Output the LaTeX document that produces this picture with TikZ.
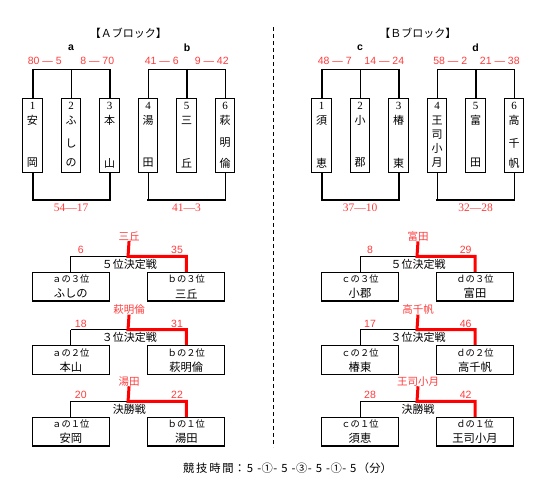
\documentclass[tikz,border=0pt]{standalone}
\usepackage{fontspec}
\setmainfont{Liberation Serif}
\setsansfont{Liberation Sans}
\newfontfamily\jp{Noto Sans CJK JP}
\definecolor{rtext}{RGB}{255,60,60}
\definecolor{rline}{RGB}{255,0,0}
\tikzset{
  tbox/.style={draw, line width=0.9pt, minimum width=19.5pt, minimum height=74pt, inner sep=0pt},
  gbox/.style={draw, line width=1.1pt, minimum width=77pt, minimum height=28.7pt, inner sep=0pt},
  jtxt/.style={font=\jp\fontsize{11}{11}\selectfont, inner sep=0pt},
  ntxt/.style={font=\rmfamily\fontsize{11}{11}\selectfont, inner sep=0pt},
  ptxt/.style={font=\jp\fontsize{9.3}{9.3}\selectfont, inner sep=0pt},
  gname/.style={font=\jp\fontsize{11.3}{11.3}\selectfont, inner sep=0pt},
  rnum/.style={font=\sffamily\fontsize{10.5}{10.5}\selectfont, text=rtext, inner sep=0pt},
  rjp/.style={font=\jp\fontsize{10.5}{10.5}\selectfont, text=rtext, inner sep=0pt},
  rser/.style={font=\rmfamily\fontsize{11.5}{11.5}\selectfont, text=rtext, inner sep=0pt},
  lab/.style={font=\sffamily\bfseries\fontsize{10.5}{10.5}\selectfont, inner sep=0pt},
  thinl/.style={line width=0.9pt},
  thickl/.style={line width=2pt},
  blkh/.style={line width=1.3pt},
  redl/.style={draw=rline, line width=3pt},
}
% lower game lines: prefix, xL, xR, Y0, winner, scoreL, scoreR, title
\newcommand\game[8]{%
  \coordinate (#1m) at ({(#2+#3)/2-0.5},{#4-16});
  \node[rjp] (#1w) at ({(#2+#3)/2+0.5},{#4-36}) {#5};
  \node[rnum] (#1sl) at ({#2+10},{#4-22}) {#6};
  \node[rnum] (#1sr) at ({#3-9.3},{#4-22}) {#7};
  \node[jtxt] (#1t) at ({(#2+#3)/2+0.7},{#4-7.7}) {#8};
  \draw[blkh] (#1m) -- (#1m -| #1L.north);
  \draw[thinl] (#1m -| #1L.north) -- (#1L.north);
  \draw[redl] (#1w.south) -- (#1m) -| (#1R.north);
}
% lower game box: name, x, Y0, position text, team
\newcommand\gbx[5]{%
  \node[gbox] (#1) at (#2,{#3+14.35}) {};
  \node[ptxt] (#1p) at (#2,{#3+7}) {#4};
  \node[gname] (#1q) at (#2,{#3+21.3}) {#5};
}
\begin{document}
\begin{tikzpicture}[x=1pt,y=-1pt]
\useasboundingbox (0,0) rectangle (549,488);

% titles
\node[jtxt] (tA) at (128.3,33) {【Ａブロック】};
\node[jtxt] (tB) at (417.8,33) {【Ｂブロック】};
\node[lab] (la) at (71,48) {a};
\node[lab] (lb) at (187,48) {b};
\node[lab] (lc) at (360,48) {c};
\node[lab] (ld) at (475.5,48) {d};

% top scores
\node[rnum] (sa1) at (44.8,61) {80 — 5};
\node[rnum] (sa2) at (97.2,61) {8 — 70};
\node[rnum] (sb1) at (161.8,61) {41 — 6};
\node[rnum] (sb2) at (211.7,61) {9 — 42};
\node[rnum] (sc1) at (334.7,61) {48 — 7};
\node[rnum] (sc2) at (384.3,61) {14 — 24};
\node[rnum] (sd1) at (450.3,61) {58 — 2};
\node[rnum] (sd2) at (499.8,61) {21 — 38};

% A block boxes
\node[tbox] (A1) at (32.5,135) {};
\node[tbox] (A2) at (71,135) {};
\node[tbox] (A3) at (109.5,135) {};
\node[tbox] (A4) at (148,135) {};
\node[tbox] (A5) at (186.5,135) {};
\node[tbox] (A6) at (225,135) {};
% B block boxes
\node[tbox] (B1) at (321.5,135) {};
\node[tbox] (B2) at (360,135) {};
\node[tbox] (B3) at (398.5,135) {};
\node[tbox] (B4) at (437,135) {};
\node[tbox] (B5) at (475.5,135) {};
\node[tbox] (B6) at (514,135) {};

% A box texts
\node[ntxt] (A1n) at (32.5,106) {1};
\node[jtxt] (A1a) at (32.5,120) {安};
\node[jtxt] (A1c) at (32.5,163) {岡};
\node[ntxt] (A2n) at (71,106) {2};
\node[jtxt] (A2a) at (71,120) {ふ};
\node[jtxt] (A2b) at (71,143) {し};
\node[jtxt] (A2c) at (71,163) {の};
\node[ntxt] (A3n) at (109.5,106) {3};
\node[jtxt] (A3a) at (109.5,120) {本};
\node[jtxt] (A3c) at (109.5,163) {山};
\node[ntxt] (A4n) at (148,106) {4};
\node[jtxt] (A4a) at (148,120) {湯};
\node[jtxt] (A4c) at (148,163) {田};
\node[ntxt] (A5n) at (186.5,106) {5};
\node[jtxt] (A5a) at (186.5,120) {三};
\node[jtxt] (A5c) at (186.5,163) {丘};
\node[ntxt] (A6n) at (225,106) {6};
\node[jtxt] (A6a) at (225,120) {萩};
\node[jtxt] (A6b) at (225,143) {明};
\node[jtxt] (A6c) at (225,163) {倫};
% B box texts
\node[ntxt] (B1n) at (321.5,106) {1};
\node[jtxt] (B1a) at (321.5,120) {須};
\node[jtxt] (B1c) at (321.5,163) {恵};
\node[ntxt] (B2n) at (360,106) {2};
\node[jtxt] (B2a) at (360,120) {小};
\node[jtxt] (B2c) at (360,163) {郡};
\node[ntxt] (B3n) at (398.5,106) {3};
\node[jtxt] (B3a) at (398.5,120) {椿};
\node[jtxt] (B3c) at (398.5,163) {東};
\node[ntxt] (B4n) at (437,106) {4};
\node[jtxt] (B4a) at (437,120) {王};
\node[jtxt] (B4b) at (437,134.5) {司};
\node[jtxt] (B4c) at (437,148.5) {小};
\node[jtxt] (B4d) at (437,163) {月};
\node[ntxt] (B5n) at (475.5,106) {5};
\node[jtxt] (B5a) at (475.5,120) {富};
\node[jtxt] (B5c) at (475.5,163) {田};
\node[ntxt] (B6n) at (514,106) {6};
\node[jtxt] (B6a) at (514,120) {高};
\node[jtxt] (B6b) at (514,143) {千};
\node[jtxt] (B6c) at (514,163) {帆};

% top brackets
\coordinate (ty) at (0,69.3);
\coordinate (by) at (0,200);
% a
\draw[thinl] (A1.north |- ty) -- (A3.north |- ty);
\draw[thickl, shorten <=-0.5pt] (A1.north |- ty) -- (A1.north);
\draw[thinl] (A2.north |- ty) -- (A2.north);
\draw[thickl, shorten <=-0.5pt] (A3.north |- ty) -- (A3.north);
% b
\draw[thinl] (A4.north |- ty) -- (A6.north |- ty);
\draw[thinl] (A4.north |- ty) -- (A4.north);
\draw[thickl, shorten <=-0.5pt] (A5.north |- ty) -- (A5.north);
\draw[thinl] (A6.north |- ty) -- (A6.north);
% c
\draw[thinl] (B1.north |- ty) -- (B3.north |- ty);
\draw[thickl, shorten <=-0.5pt] (B1.north |- ty) -- (B1.north);
\draw[thinl] (B2.north |- ty) -- (B2.north);
\draw[thickl, shorten <=-0.5pt] (B3.north |- ty) -- (B3.north);
% d
\draw[thinl] (B4.north |- ty) -- (B6.north |- ty);
\draw[thinl] (B4.north |- ty) -- (B4.north);
\draw[thickl, shorten <=-0.5pt] (B5.north |- ty) -- (B5.north);
\draw[thinl] (B6.north |- ty) -- (B6.north);

% bottom brackets
\draw[thickl] (A1.south) -- (A1.south |- by) -- (A3.south |- by) -- (A3.south);
\draw[thinl] (A4.south) -- (A4.south |- by);
\draw[thinl] (A6.south) -- (A6.south |- by);
\draw[thickl, line cap=rect] (A4.south |- by) -- (A6.south |- by);
\draw[thickl] (B1.south) -- (B1.south |- by) -- (B3.south |- by) -- (B3.south);
\draw[thinl] (B4.south) -- (B4.south |- by);
\draw[thinl] (B6.south) -- (B6.south |- by);
\draw[thickl, line cap=rect] (B4.south |- by) -- (B6.south |- by);

\node[rser] (ra) at (71,208) {54—17};
\node[rser] (rb) at (186.5,208) {41—3};
\node[rser] (rc) at (360,208) {37—10};
\node[rser] (rd) at (475.5,208) {32—28};

% dashed separator
\coordinate (dt) at (273,27);
\coordinate (db) at (273,447);
\draw[line width=0.9pt, dash pattern=on 4pt off 3pt] (dt) -- (db);

% lower A
\gbx{g1L}{70.8}{272.3}{ａの３位}{ふしの}
\gbx{g1R}{186.3}{272.3}{ｂの３位}{三丘}
\game{g1}{70.8}{186.3}{272.3}{三丘}{6}{35}{５位決定戦}
\gbx{g2L}{70.8}{345.5}{ａの２位}{本山}
\gbx{g2R}{186.3}{345.5}{ｂの２位}{萩明倫}
\game{g2}{70.8}{186.3}{345.5}{萩明倫}{18}{31}{３位決定戦}
\gbx{g3L}{70.8}{417.3}{ａの１位}{安岡}
\gbx{g3R}{186.3}{417.3}{ｂの１位}{湯田}
\game{g3}{70.8}{186.3}{417.3}{湯田}{20}{22}{決勝戦}
% lower B
\gbx{h1L}{360}{272.3}{ｃの３位}{小郡}
\gbx{h1R}{475}{272.3}{ｄの３位}{富田}
\game{h1}{360}{475}{272.3}{富田}{8}{29}{５位決定戦}
\gbx{h2L}{360}{345.5}{ｃの２位}{椿東}
\gbx{h2R}{475}{345.5}{ｄの２位}{高千帆}
\game{h2}{360}{475}{345.5}{高千帆}{17}{46}{３位決定戦}
\gbx{h3L}{360}{417.3}{ｃの１位}{須恵}
\gbx{h3R}{475}{417.3}{ｄの１位}{王司小月}
\game{h3}{360}{475}{417.3}{王司小月}{28}{42}{決勝戦}

% caption
\node[jtxt, font=\jp\fontsize{11.3}{11.3}\selectfont] (cap) at (287.5,468) {競\hspace{1.8pt}技\hspace{1.8pt}時\hspace{1.8pt}間\hspace{0.5pt}：\hspace{1.5pt}5\hspace{4pt}-\hspace{0.5pt}①\hspace{0.5pt}-\hspace{4pt}5\hspace{4pt}-\hspace{0.5pt}③\hspace{0.5pt}-\hspace{4pt}5\hspace{4pt}-\hspace{0.5pt}①\hspace{0.5pt}-\hspace{4pt}5\hspace{1.5pt}（分）};
\end{tikzpicture}
\end{document}
